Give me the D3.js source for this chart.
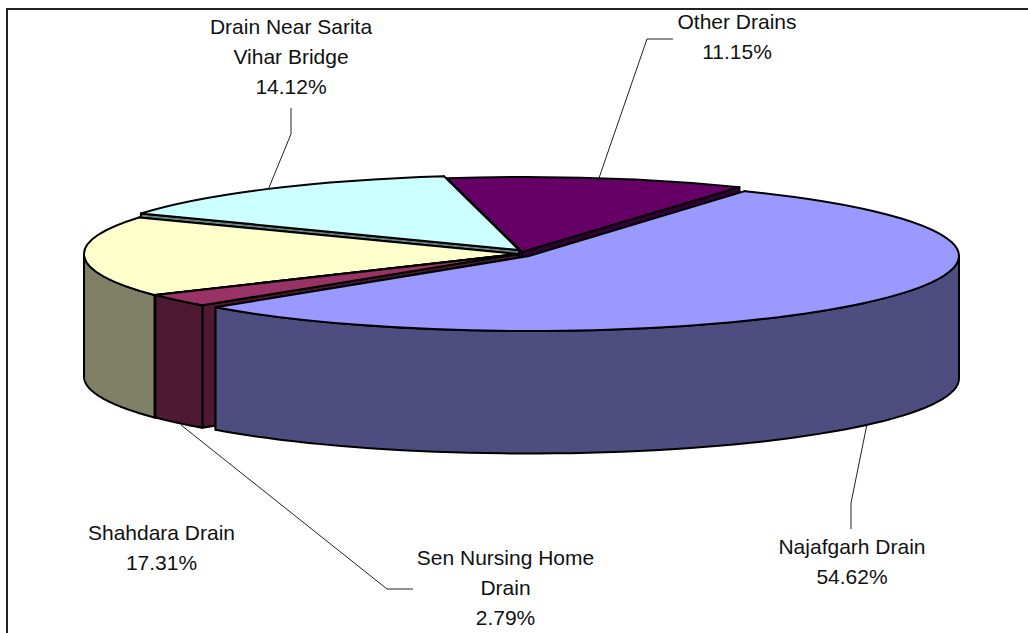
<!DOCTYPE html>
<html><head><meta charset="utf-8">
<script src="https://cdn.jsdelivr.net/npm/d3@7/dist/d3.min.js"></script>
<style>html,body{margin:0;background:#fff}svg{display:block}text{font-family:"Liberation Sans",Arial,sans-serif;font-size:21px;fill:#111;text-anchor:middle}</style>
</head><body><div id="c"></div>
<script>
// Data, in pie order, clockwise from the start angle
const names = ["Other Drains","Najafgarh Drain","Sen Nursing Home Drain","Shahdara Drain","Drain Near Sarita Vihar Bridge"];
const values = [11.15,54.62,2.79,17.31,14.12];
const labelLines = [["Other Drains","11.15%"],["Najafgarh Drain","54.62%"],["Sen Nursing Home","Drain","2.79%"],["Shahdara Drain","17.31%"],["Drain Near Sarita","Vihar Bridge","14.12%"]];
// Styling
const faceColors = ["#660066","#9999FF","#993366","#FFFFCC","#CCFFFF"];
const wallColors = ["#330033","#4D4D80","#4D1933","#808066","#668080"];
const offsetX = [2,9,-2,-3,-1];
const offsetY = [-1,3,1,1,-3];
const rimX = [433,430,433,433,433];
const labelX = [737,852,505.5,161.5,291];
const labelY = [28.5,554,564.5,540,34];
const leaders = [[[673,39],[647,39],[599,178]],[[851,529],[851,503],[867,424]],[[413,589],[387,589],[181,425]],null,[[291,108],[291,134],[268,190]]];
const paintOrder = [0,4,3,2,1];

const W=1028,H=633,cx=520,cy=253,ry=75,depth=122.5,rot=-10*Math.PI/180;
const svg=d3.select("#c").append("svg").attr("width",W).attr("height",H);
svg.append("path").attr("d",d3.line()([[7,H+5],[7,9],[W+5,9]])).attr("fill","none").attr("stroke","#222").attr("stroke-width",2);

const arcs=d3.pie().sort(null).startAngle(rot).endAngle(rot+2*Math.PI)(values);
const line=d3.line();
const leaderG=svg.append("g");
const g=svg.append("g");
leaders.forEach(l=>{if(l)leaderG.append("path").attr("d",line(l)).attr("fill","none").attr("stroke","#222").attr("stroke-width",1);});

paintOrder.forEach(i=>{
  const s=arcs[i],rx=rimX[i],gi=g.append("g").attr("transform",`translate(${cx+offsetX[i]},${cy+offsetY[i]})`);
  const pt=(a,h=0)=>[rx*Math.sin(a),-ry*Math.cos(a)+h];
  const wall=d=>gi.append("path").attr("d",d).attr("fill",wallColors[i]).attr("stroke","#000").attr("stroke-width",2).attr("stroke-linejoin","round");
  // radial walls
  [s.endAngle,s.startAngle].forEach(a=>{
    const p=pt(a);
    wall(line([[0,0],p,[p[0],p[1]+depth],[0,depth]])+"Z");
  });
  // outer wall on the front half of the rim
  const l=Math.max(s.startAngle,Math.PI/2),h=Math.min(s.endAngle,3*Math.PI/2);
  if(h>l){
    const ts=d3.range(0,61).map(t=>l+(h-l)*t/60);
    wall(line(ts.map(t=>pt(t)).concat(ts.slice().reverse().map(t=>pt(t,depth))))+"Z");
  }
  // top face
  const arcGen=d3.arc().innerRadius(0).outerRadius(rx);
  gi.append("g").attr("transform",`scale(1,${ry/rx})`).append("path").attr("d",arcGen(s)).attr("fill",faceColors[i]).attr("stroke","#000").attr("stroke-width",2).attr("vector-effect","non-scaling-stroke").attr("stroke-linejoin","round");
});

labelLines.forEach((ls,i)=>{
  const t=svg.append("text").attr("data-name",names[i]);
  ls.forEach((x,j)=>t.append("tspan").attr("x",labelX[i]).attr("y",labelY[i]+j*30).text(x));
});
</script></body></html>
